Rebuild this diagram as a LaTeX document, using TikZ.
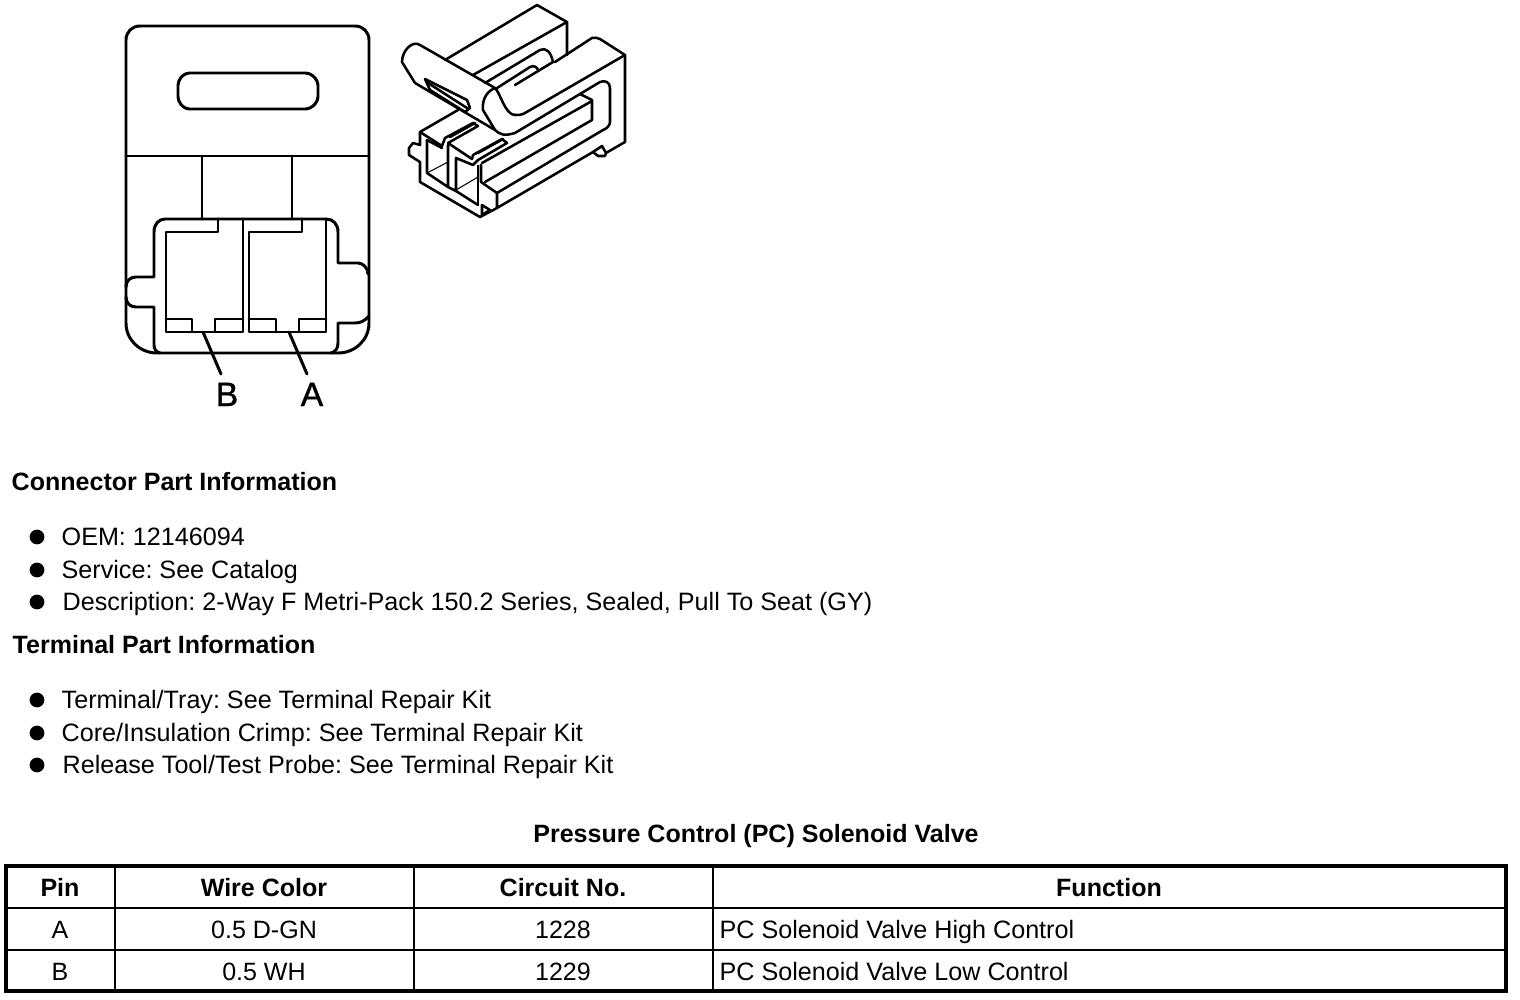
\documentclass[tikz,border=0pt]{standalone}
\usepackage{fontspec}
\setmainfont{Liberation Sans}
\tikzset{
  txt/.style={anchor=base west,inner sep=0pt,font=\fontsize{7.15}{8}\selectfont\frenchspacing},
  head/.style={anchor=base west,inner sep=0pt,font=\fontsize{7.12}{8}\selectfont\bfseries},
  cell/.style={anchor=base,inner sep=0pt,font=\fontsize{7.12}{8}\selectfont},
  hcell/.style={anchor=base,inner sep=0pt,font=\fontsize{7.12}{8}\selectfont\bfseries},
  pinlabel/.style={anchor=base,inner sep=0pt,font=\fontsize{9.6}{12}\selectfont\addfontfeature{FakeBold=1.2}},
  dot/.style={circle,fill=black,inner sep=0pt,minimum size=4.2pt},
  face/.style={line width=.85pt,line join=round,line cap=round},
  part/.style={line width=.72pt,line join=round,line cap=round},
  thinpart/.style={line width=.3pt},
  rule/.style={line width=.6pt},
  frame/.style={line width=1.2pt}
}
\begin{document}
\begin{tikzpicture}[x=.01cm,y=-.01cm]
  \useasboundingbox (0,0) rectangle (1520,1000);
  % connector, face view
  \draw[face] (126,40) .. controls (126,32) and (132,26) .. (140,26) -- (355,26) .. controls (363,26) and (369,32) .. (369,40) -- (369,323) .. controls (369,340) and (355,353) .. (338,353) -- (157,353) .. controls (140,353) and (126,340) .. (126,323) -- cycle;
  \draw[face,rounded corners=1.2pt] (178,81) -- (185,73) -- (310,73) -- (318,81) -- (318,101) -- (310,109) -- (185,109) -- (178,101) -- cycle;
  \draw[face] (126,156) -- (369,156);
  \draw[face] (202,156) -- (202,219); \draw[face] (292,156) -- (292,219);
  \draw[face] (126,287) .. controls (126,281) and (130,277) .. (136,277) -- (154,277) -- (154,232) .. controls (154,224) and (159,219) .. (165,219) -- (326,219) .. controls (333,219) and (338,224) .. (338,232) -- (338,263) -- (358,263) .. controls (363,263) and (368,268) .. (368,274);
  \draw[face] (126,297) .. controls (126,303) and (130,307) .. (136,307) -- (154,307) -- (154,345) .. controls (154,349) and (156,352) .. (160,353);
  \draw[face] (369,316) .. controls (365,321) and (360,323) .. (355,323) -- (338,323) -- (338,343) .. controls (338,349) and (335,352) .. (331,353);
  % cavities
  \draw[face] (218,219) -- (218,232) -- (166,232) -- (166,332) -- (243,332) -- (243,219);
  \draw[face] (166,319) -- (192,319) -- (192,332);
  \draw[face] (215,332) -- (215,319) -- (243,319);
  \draw[face] (302,219) -- (302,232) -- (249,232) -- (249,332) -- (326,332) -- (326,219);
  \draw[face] (249,319) -- (276,319) -- (276,332);
  \draw[face] (299,332) -- (299,319) -- (326,319);
  \coordinate (pinB) at (203,332);
  \coordinate (pinA) at (289,332);
  \node[pinlabel] (labelB) at (227,406) {B};
  \node[pinlabel] (labelA) at (312,406) {A};
  \coordinate (leadB) at (221,374);
  \coordinate (leadA) at (307,374);
  \draw[face] (pinB) -- (leadB);
  \draw[face] (pinA) -- (leadA);
  % connector, perspective view
  \draw[part] (445,60) -- (537,5) -- (567,22) -- (567,55);
  \draw[part] (473,75) -- (567,22);
  \draw[part] (485,83) -- (540,50) .. controls (546,47) and (551,52) .. (553,62);
  \draw[part] (497,88) -- (530,67) .. controls (534,65) and (537,67) .. (538,70);
  \draw[part] (515,85) -- (553,62);
  % lever
  \draw[part] (420,45) .. controls (413,40) and (402,50) .. (402,62) -- (415,83) -- (495,130) .. controls (500,135) and (505,136) .. (515,133);
  \draw[part] (420,45) -- (495,88) .. controls (485,92) and (482,102) .. (483,110) -- (495,130);
  \draw[part] (425,79) -- (467,100) -- (470,108) -- (465,112) -- (430,90) -- cycle;
  \draw[part] (428,83) -- (467,108);
  % right block
  \draw[part] (495,88) .. controls (500,92) and (505,115) .. (515,115) .. controls (518,115) and (522,115) .. (525,113) -- (625,55);
  \draw[part] (555,62) -- (592,38) .. controls (595,37) and (597,38) .. (600,39) -- (625,55) -- (625,142) -- (606,153) -- (605,156) -- (598,156) -- (593,152) -- (602,146) -- (606,153);
  \draw[part] (593,152) -- (497,208) -- (497,193) -- (481,182) -- (481,165);
  \draw[part] (515,133) -- (600,82) .. controls (605,80) and (610,82) .. (610,88) -- (610,122) .. controls (610,126) and (606,129) .. (603,130) -- (497,193);
  \draw[part] (482,163) -- (592,101);
  \draw[part] (580,94) -- (592,100) -- (592,120) -- (485,182);
  % front
  \draw[part] (420,132) -- (458,110);
  \draw[part] (420,132) -- (420,145) -- (413,143) -- (409,148) -- (409,155) -- (420,162) -- (420,182) -- (480,217) -- (497,208);
  \draw[part] (420,132) -- (442,146) -- (445,138) -- (473,123) -- (478,126) -- (448,143) -- (472,159) -- (473,155) -- (502,139) -- (507,143) -- (478,160) -- (473,165);
  \draw[part] (450,137) -- (475,123);
  \draw[part] (478,153) -- (503,139);
  \draw[part] (427,140) -- (427,173) -- (448,187) -- (448,145);
  \draw[part] (427,140) -- (442,148);
  \draw[thinpart] (427,173) -- (448,162);
  \draw[part] (448,187) -- (456,191) -- (456,158) -- (473,165);
  \draw[part] (456,191) -- (478,205);
  \draw[thinpart] (456,190) -- (478,177);
  \draw[thinpart] (478,165) -- (478,205);
  \draw[part] (482,205) -- (482,215) -- (490,210) -- cycle;
  % part information
  \node[head] (conninfo) at (11,490) {Connector Part Information};
  \node[dot] (b1) at (37,537) {}; \node[txt] (t1) at (61,545) {OEM: 12146094};
  \node[dot] (b2) at (37,570) {}; \node[txt] (t2) at (61,578) {Service: See Catalog};
  \node[dot] (b3) at (37,602) {}; \node[txt] (t3) at (62,610) {Description: 2-Way F Metri-Pack 150.2 Series, Sealed, Pull To Seat (GY)};
  \node[head] (terminfo) at (12,653) {Terminal Part Information};
  \node[dot] (b4) at (37,700) {}; \node[txt] (t4) at (61,708) {Terminal/Tray: See Terminal Repair Kit};
  \node[dot] (b5) at (37,733) {}; \node[txt] (t5) at (61,741) {Core/Insulation Crimp: See Terminal Repair Kit};
  \node[dot] (b6) at (37,765) {}; \node[txt] (t6) at (62,773) {Release Tool/Test Probe: See Terminal Repair Kit};
  % table
  \node[hcell] (title) at (756,842) {Pressure Control (PC) Solenoid Valve};
  \draw[frame] (6,866) rectangle (1506,991);
  \draw[rule] (6,908) -- (1506,908); \draw[rule] (6,950) -- (1506,950);
  \foreach \x in {115,414,713} \draw[rule] (\x,866) -- (\x,991);
  \node[hcell] (hpin) at (60,896) {Pin}; \node[hcell] (hwire) at (264,896) {Wire Color};
  \node[hcell] (hcirc) at (563,896) {Circuit No.}; \node[hcell] (hfunc) at (1109,896) {Function};
  \node[cell] (pina) at (60,938) {A}; \node[cell] (wirea) at (264,938) {0.5 D-GN};
  \node[cell] (circa) at (563,938) {1228}; \node[txt] (funca) at (719,938) {PC Solenoid Valve High Control};
  \node[cell] (pinb) at (60,980) {B}; \node[cell] (wireb) at (264,980) {0.5 WH};
  \node[cell] (circb) at (563,980) {1229}; \node[txt] (funcb) at (719,980) {PC Solenoid Valve Low Control};
\end{tikzpicture}
\end{document}
